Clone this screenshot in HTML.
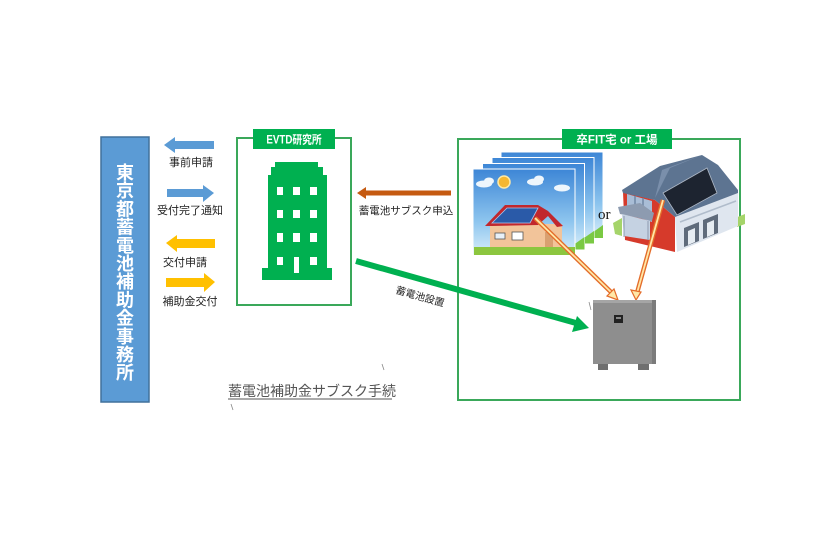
<!DOCTYPE html>
<html><head><meta charset="utf-8"><style>
html,body{margin:0;padding:0;background:#fff;}
svg{display:block;}
</style></head><body>
<svg width="840" height="560" viewBox="0 0 840 560" xmlns="http://www.w3.org/2000/svg" font-family="Liberation Sans, Noto Sans CJK JP, sans-serif">
<defs>
<linearGradient id="sky" x1="0" y1="0" x2="0" y2="1">
<stop offset="0" stop-color="#3d86d6"/><stop offset="0.6" stop-color="#8cc4ee"/><stop offset="1" stop-color="#d8eefa"/>
</linearGradient>
</defs>
<rect width="840" height="560" fill="#fff"/>

<!-- Left blue box -->
<rect x="101" y="137" width="48" height="265" fill="#5b9bd5" stroke="#41719c" stroke-width="1.5"/>
<g fill="#fff" font-size="18" font-weight="bold" text-anchor="middle">
<text x="125" y="179">東</text><text x="125" y="197.2">京</text><text x="125" y="215.4">都</text>
<text x="125" y="233.6">蓄</text><text x="125" y="251.8">電</text><text x="125" y="270">池</text>
<text x="125" y="288.2">補</text><text x="125" y="306.4">助</text><text x="125" y="324.6">金</text>
<text x="125" y="342.8">事</text><text x="125" y="361">務</text><text x="125" y="379.2">所</text>
</g>

<!-- Left arrows -->
<polygon points="164,145 175,137 175,141 214,141 214,149 175,149 175,153" fill="#5b9bd5"/>
<polygon points="214,193 203,185 203,189 167,189 167,197 203,197 203,202" fill="#5b9bd5"/>
<polygon points="166,243 177,235 177,239 215,239 215,248 177,248 177,252" fill="#ffc000"/>
<polygon points="215,282 204,273 204,278 166,278 166,287 204,287 204,292" fill="#ffc000"/>
<g font-size="11" fill="#222" text-anchor="middle">
<text x="191" y="166">事前申請</text>
<text x="190" y="214">受付完了通知</text>
<text x="185" y="266">交付申請</text>
<text x="190" y="305">補助金交付</text>
</g>

<!-- EVTD box -->
<rect x="237" y="138" width="114" height="167" fill="none" stroke="#3aa85a" stroke-width="2"/>
<rect x="253" y="129" width="82" height="20" fill="#00b050"/>
<text x="294" y="143.5" font-size="11.5" font-weight="bold" fill="#fff" text-anchor="middle" transform="translate(294,0) scale(0.85,1) translate(-294,0)">EVTD研究所</text>

<!-- Building -->
<g fill="#00b050">
<rect x="275" y="162" width="43" height="6"/>
<rect x="271" y="167" width="52" height="9"/>
<rect x="268" y="175" width="59" height="94"/>
<rect x="262" y="268" width="70" height="12"/>
</g>
<g fill="#fff">
<rect x="277" y="187" width="6" height="8"/><rect x="293" y="187" width="7" height="8"/><rect x="310" y="187" width="7" height="8"/>
<rect x="277" y="210" width="6" height="8"/><rect x="293" y="210" width="7" height="8"/><rect x="310" y="210" width="7" height="8"/>
<rect x="277" y="233" width="6" height="9"/><rect x="293" y="233" width="7" height="9"/><rect x="310" y="233" width="7" height="9"/>
<rect x="277" y="257" width="6" height="8"/><rect x="294" y="257" width="5" height="16"/><rect x="310" y="257" width="7" height="8"/>
</g>

<!-- Brown arrow -->
<polygon points="357,193 366,187 366,190.5 451,190.5 451,195.5 366,195.5 366,199" fill="#c55a11"/>
<text x="406" y="214" font-size="10.5" fill="#222" text-anchor="middle">蓄電池サブスク申込</text>

<!-- Right box -->
<rect x="458" y="139" width="282" height="261" fill="none" stroke="#3aa85a" stroke-width="2"/>
<rect x="562" y="129" width="110" height="20" fill="#00b050"/>
<text x="617" y="143.5" font-size="11.5" font-weight="bold" fill="#fff" text-anchor="middle">卒FIT宅 or 工場</text>

<!-- stacked house cards -->
<g>
<rect x="501" y="152" width="102" height="86" fill="url(#sky)" stroke="#fff" stroke-width="1"/>
<polygon points="585,238 603,225 603,238" fill="#7ac943"/>
<rect x="492" y="157.5" width="102" height="86" fill="url(#sky)" stroke="#fff" stroke-width="1"/>
<polygon points="576,243.5 594,231 594,243.5" fill="#7ac943"/>
<rect x="482.5" y="163.5" width="102" height="86" fill="url(#sky)" stroke="#fff" stroke-width="1"/>
<polygon points="567,249.5 584.5,237 584.5,249.5" fill="#7ac943"/>
<rect x="473" y="169" width="102" height="86" fill="url(#sky)" stroke="#fff" stroke-width="1"/>
<!-- clouds -->
<ellipse cx="484" cy="184" rx="8" ry="3.5" fill="#eef6fc"/>
<ellipse cx="489" cy="181" rx="5" ry="3.5" fill="#eef6fc"/>
<ellipse cx="535" cy="182" rx="8" ry="3.5" fill="#eef6fc"/>
<ellipse cx="539" cy="179" rx="5" ry="3.5" fill="#eef6fc"/>
<ellipse cx="562" cy="188" rx="8" ry="3.5" fill="#eef6fc"/>
<circle cx="504" cy="182" r="6" fill="#f5b731" stroke="#fde9a6" stroke-width="1.5"/>
<!-- house -->
<rect x="474" y="247" width="101" height="8" fill="#8cc63f"/>
<rect x="490" y="224" width="72" height="23" fill="#f2c49a"/>
<polygon points="485,226 505,205 538,205 548,211 563,226 557,227 548,216 538,225 492,226" fill="#c1272d"/>
<polygon points="492,223 507,208 538,208 530,223" fill="#2a5aa8" stroke="#a9c8ee" stroke-width="0.8"/>
<rect x="495" y="233" width="10" height="6" fill="#e8f0f8" stroke="#555" stroke-width="0.8"/>
<rect x="512" y="232" width="11" height="8" fill="#fff" stroke="#555" stroke-width="0.8"/>
<rect x="545" y="232" width="8" height="15" fill="#d9a070"/>
</g>

<!-- or -->
<text x="598" y="219" font-size="15" fill="#111" style="font-family:'Liberation Serif',serif">or</text>

<!-- factory -->
<g>
<polygon points="613,223 622,218 622,236 615,234" fill="#a5d46a"/>
<polygon points="735,218 745,214 745,224 737,227" fill="#a5d46a"/>
<!-- right face -->
<polygon points="675,217 738,193 738,226 677,252" fill="#dfe6ef"/>
<line x1="680" y1="222" x2="736" y2="201" stroke="#b0bccb" stroke-width="1.5"/>
<!-- red front -->
<polygon points="623,192 655,200 675,217 675,252 625,240" fill="#d63a2b"/>
<!-- left windows / porch -->
<polygon points="627,194 652,201 652,222 627,214" fill="#a9bdd6"/>
<line x1="635" y1="196" x2="635" y2="216" stroke="#6f86a3" stroke-width="1.5"/>
<line x1="643" y1="198" x2="643" y2="219" stroke="#6f86a3" stroke-width="1.5"/>
<polygon points="618,207 640,203 654,213 652,221 620,214" fill="#8d9bb0"/>
<polygon points="622,214 650,221 650,240 624,236" fill="#c5d2e2"/>
<line x1="624" y1="216" x2="624" y2="237" stroke="#8d9bb0" stroke-width="1"/>
<line x1="648" y1="221" x2="648" y2="240" stroke="#8d9bb0" stroke-width="1"/>
<!-- roof -->
<polygon points="622,190 660,166 702,155 718,165 738,190 738,193 675,217 655,200 623,193" fill="#5d7491"/>
<polygon points="655,198 670,168 702,155 662,170" fill="#7a8fab"/>
<!-- panel -->
<polygon points="663,193 707,168 717,193 677,215" fill="#1d2430" stroke="#aeb8c6" stroke-width="0.8"/>
<!-- doors -->
<polygon points="684,247 684,228 699,222 699,241" fill="#5f6b7b"/>
<polygon points="688,245 688,231 695,228 695,242" fill="#e6ecf2"/>
<polygon points="703,239 703,220 718,214 718,233" fill="#5f6b7b"/>
<polygon points="707,237 707,223 714,220 714,234" fill="#e6ecf2"/>
</g>

<!-- double-line arrows -->
<g stroke-linecap="butt">
<line x1="535" y1="218" x2="614" y2="295" stroke="#e46c2a" stroke-width="4.5"/>
<line x1="535" y1="218" x2="614" y2="295" stroke="#ffe8a8" stroke-width="1.8"/>
<polygon points="618,300 607,296 614,289" fill="#ffe8a8" stroke="#e46c2a" stroke-width="1.2"/>
<line x1="663" y1="200" x2="637" y2="293" stroke="#e46c2a" stroke-width="4.5"/>
<line x1="663" y1="200" x2="637" y2="293" stroke="#ffe8a8" stroke-width="1.8"/>
<polygon points="636,300 631,290 641,292" fill="#ffe8a8" stroke="#e46c2a" stroke-width="1.2"/>
</g>

<!-- battery -->
<g>
<rect x="598" y="362" width="10" height="8" fill="#6f6f6f"/>
<rect x="638" y="362" width="11" height="8" fill="#6f6f6f"/>
<rect x="593" y="300" width="63" height="64" fill="#8e8e8e"/>
<rect x="593" y="300" width="63" height="3" fill="#a5a5a5"/>
<rect x="652" y="300" width="4" height="64" fill="#7b7b7b"/>
<rect x="614" y="315" width="9" height="8" fill="#222"/>
<rect x="616" y="317" width="5" height="2" fill="#888"/>
</g>

<!-- green arrow -->
<line x1="356" y1="261" x2="576" y2="323" stroke="#00b050" stroke-width="6"/>
<polygon points="589,328 572,332 577,316" fill="#00b050"/>
<text x="420" y="300" font-size="10" fill="#222" text-anchor="middle" transform="rotate(16 420 297)">蓄電池設置</text>

<!-- title -->
<text x="228" y="396" font-size="14" fill="#555">蓄電池補助金サブスク手続</text>
<line x1="228" y1="399" x2="392" y2="399" stroke="#555" stroke-width="1"/>

<!-- small marks -->
<g stroke="#888" stroke-width="0.8">
<line x1="382" y1="364" x2="384" y2="370"/>
<line x1="231" y1="404" x2="233" y2="410"/>
<line x1="589" y1="302" x2="591" y2="310"/>
</g>
</svg>
</body></html>
